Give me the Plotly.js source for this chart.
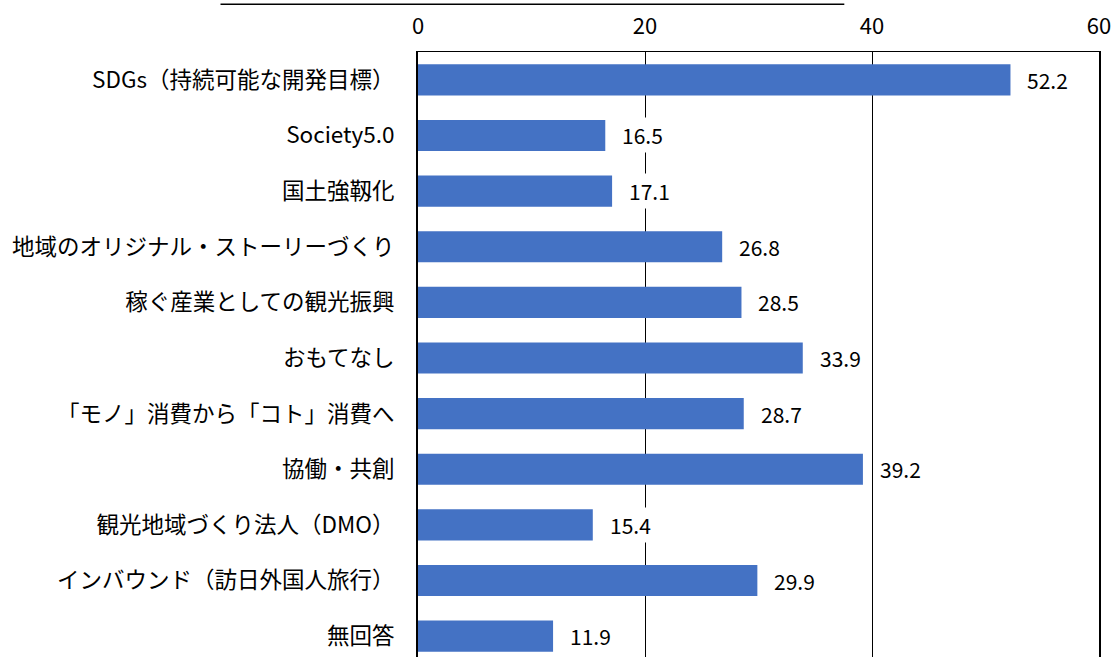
<!DOCTYPE html>
<html><head><meta charset="utf-8">
<script src="https://cdn.plot.ly/plotly-3.0.1.min.js"></script>
<style>html,body{margin:0;padding:0;overflow:hidden;background:#fff}</style>
</head><body>
<div id="chart" style="width:1115px;height:664px"></div>
<script>
const categories = [
  "SDGs（持続可能な開発目標）",
  "Society5.0",
  "国土強靱化",
  "地域のオリジナル・ストーリーづくり",
  "稼ぐ産業としての観光振興",
  "おもてなし",
  "「モノ」消費から「コト」消費へ",
  "協働・共創",
  "観光地域づくり法人（DMO）",
  "インバウンド（訪日外国人旅行）",
  "無回答"
];
const values = [52.2, 16.5, 17.1, 26.8, 28.5, 33.9, 28.7, 39.2, 15.4, 29.9, 11.9];
const xTicks = [0, 20, 40, 60];

const FONT = '"Noto Sans CJK JP", "Noto Sans", sans-serif';

const trace = {
  type: 'bar', orientation: 'h',
  x: values, y: categories,
  marker: {color: '#4472C4', line: {width: 0}},
  hoverinfo: 'skip'
};

const annotations = values.map((v, i) => ({
  x: v, y: categories[i], xref: 'x', yref: 'y',
  text: v.toFixed(1), showarrow: false,
  xanchor: 'left', yanchor: 'middle', xshift: 14,
  bgcolor: '#ffffff', borderpad: 2,
  font: {family: FONT, size: 21, color: '#000'}
}));

const layout = {
  width: 1115, height: 664,
  margin: {l: 418, r: 16, t: 52, b: 0, pad: 0},
  paper_bgcolor: '#fff', plot_bgcolor: '#fff',
  showlegend: false,
  bargap: 0.44,
  font: {family: FONT, color: '#000'},
  xaxis: {
    side: 'top', range: [0, 60], tickvals: xTicks,
    showgrid: true, gridcolor: '#000', gridwidth: 1,
    zeroline: false, showline: true, linecolor: '#000', linewidth: 1.5, mirror: true,
    ticks: '', ticklabelstandoff: 8,
    tickfont: {family: FONT, size: 22, color: '#000'},
    fixedrange: true
  },
  yaxis: {
    autorange: 'reversed', type: 'category',
    showgrid: false, zeroline: false,
    showline: true, linecolor: '#000', linewidth: 2, mirror: true,
    ticks: '', ticklabelstandoff: 17,
    tickfont: {family: FONT, size: 22.5, color: '#000'},
    fixedrange: true
  },
  shapes: [{
    type: 'line', xref: 'paper', yref: 'paper',
    x0: -0.29, x1: 0.626, y0: 1.078, y1: 1.078,
    line: {color: '#000', width: 1.5}
  }],
  annotations: annotations
};

Plotly.newPlot('chart', [trace], layout, {staticPlot: true, displayModeBar: false});
</script>
</body></html>
